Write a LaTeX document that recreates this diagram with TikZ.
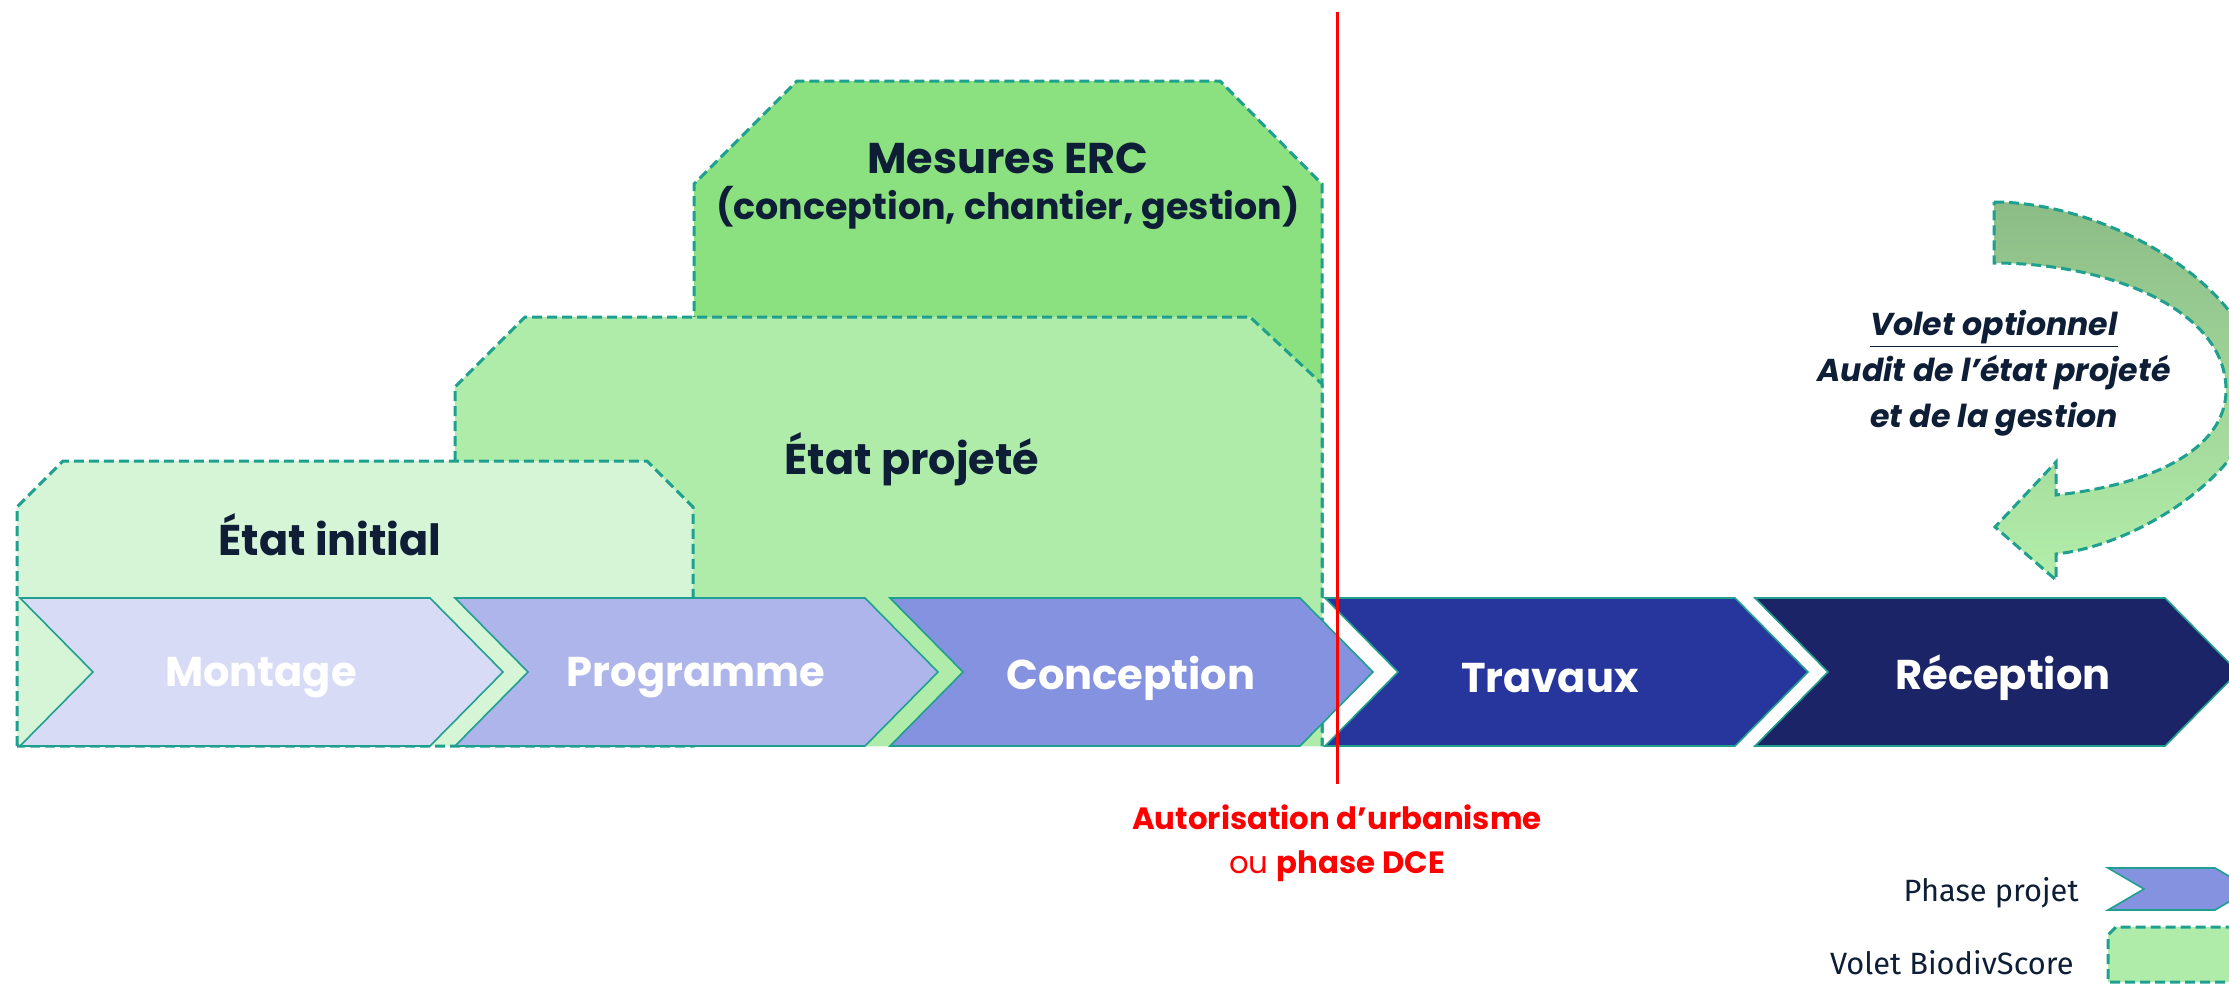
\documentclass[tikz,border=0pt]{standalone}
\usepackage{fontspec}
\setmainfont{Poppins}
\newfontfamily\legendfont{Fira Sans}
\definecolor{tealline}{HTML}{1FA08F}
\definecolor{darktext}{HTML}{0E1E36}
\definecolor{gInit}{HTML}{D6F5D6}
\definecolor{gProj}{HTML}{B0ECA9}
\definecolor{gErc}{HTML}{8BE07F}
\definecolor{arrTop}{HTML}{8CBC86}
\definecolor{arrBot}{HTML}{B3EEAA}
\definecolor{cMontage}{HTML}{D7DBF5}
\definecolor{cProgramme}{HTML}{ADB5EA}
\definecolor{cConception}{HTML}{8492E0}
\definecolor{cTravaux}{HTML}{26369C}
\definecolor{cReception}{HTML}{1B2466}
\definecolor{redline}{HTML}{FF0000}
\newcommand\mychevron[3]{%
  \draw[chevline, fill=#3] (#1,598) -- (#2,598) -- (#2+73,672) -- (#2,746) -- (#1,746) -- (#1+73,672) -- cycle;}
\begin{document}
\begin{tikzpicture}[x=0.5pt,y=-0.5pt,
  voletbox/.style={draw=tealline, line width=1.5pt, dash pattern=on 5pt off 2.5pt},
  chevline/.style={draw=tealline, line width=0.8pt, line join=miter},
  titletext/.style={font=\bfseries\fontsize{21.5}{24}\selectfont, text=darktext, align=center, inner sep=0pt},
  chevtext/.style={font=\bfseries\fontsize{20.8}{23}\selectfont, text=white, inner sep=0pt},
  audittext/.style={font=\bfseries\itshape\fontsize{15.8}{23}\selectfont, text=darktext, align=center, inner sep=0pt},
  redtext/.style={font=\fontsize{15.4}{22}\selectfont, text=redline, align=center, inner sep=0pt},
  legendtext/.style={font=\legendfont\fontsize{15.4}{18}\selectfont, text=darktext, anchor=east, inner sep=0pt}]
\useasboundingbox (0,0) rectangle (2229,986);
\clip (0,0) rectangle (2229,986);
\fill[white] (0,0) rectangle (2229,986);

% Volet BiodivScore boxes
\path[voletbox, fill=gErc] (694,746) -- (694,184) -- (797,81) -- (1220,81) -- (1322,184) -- (1322,746);
\path[voletbox, fill=gProj] (455,746) -- (455,387) -- (525,317) -- (1250,317) -- (1322,384) -- (1322,746);
\path[voletbox, fill=gInit] (17,746) -- (17,507) -- (63,461) -- (647,461) -- (693,507) -- (693,746) -- cycle;

\node[titletext] (erc) at (1008,186) {Mesures ERC\\[-1pt]{\fontsize{18.2}{22}\selectfont(conception, chantier, gestion)}};
\node[titletext] (proj) at (912,459) {État projeté};
\node[titletext] (init) at (330,535) {État initial};

% phase chevrons
\mychevron{20}{430}{cMontage}
\mychevron{455}{865}{cProgramme}
\mychevron{890}{1300}{cConception}
\mychevron{1325}{1735}{cTravaux}
\mychevron{1755}{2165}{cReception}
\node[chevtext] (montage) at (261,678) {Montage};
\node[chevtext] (programme) at (696,678) {Programme};
\node[chevtext] (conception) at (1131,678) {Conception};
\node[chevtext] (travaux) at (1550,678) {Travaux};
\node[chevtext] (reception) at (2003,678) {Réception};

% optional audit curved arrow
\path[voletbox, top color=arrTop, bottom color=arrBot]
  (1994,202) .. controls (2110,202) and (2260,290) .. (2260,390)
  .. controls (2255,470) and (2140,545) .. (2056,554)
  -- (2056,580) -- (1995,527) -- (2056,462) -- (2056,495)
  .. controls (2150,485) and (2226,450) .. (2226,390)
  .. controls (2226,310) and (2110,263) .. (1994,263) -- cycle;
\node[audittext] (audit) at (1994,373) {\underline{Volet optionnel}\\Audit de l’état projeté\\et de la gestion};

% red milestone
\coordinate (redtop) at (1337,12);
\coordinate (redbot) at (1337,784);
\draw[redline, line width=1.5pt] (redtop) -- (redbot);
\node[redtext, anchor=north] (auto) at (1337,804) {\bfseries Autorisation d’urbanisme\\ou {\bfseries phase DCE}};

% legend
\draw[chevline, fill=cConception] (2108,868) -- (2215,868) -- (2251,889) -- (2215,910) -- (2108,910) -- (2144,889) -- cycle;
\path[voletbox, fill=gProj] (2240,982) -- (2108,982) -- (2108,935) -- (2116,927) -- (2240,927);
\node[legendtext] (lphase) at (2079,893) {Phase projet};
\node[legendtext] (lvolet) at (2074,963) {Volet BiodivScore};
\end{tikzpicture}
\end{document}
